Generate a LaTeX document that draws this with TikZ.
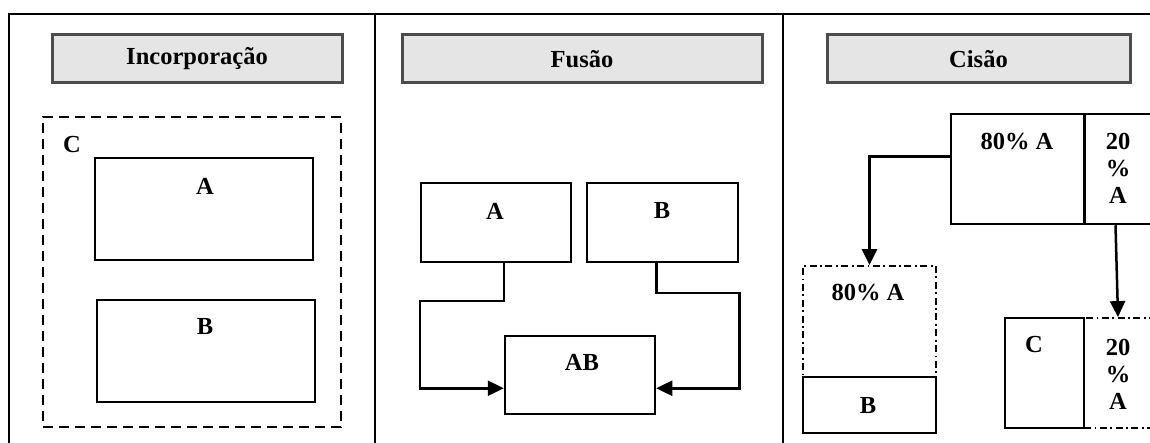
\documentclass[tikz,border=0pt]{standalone}
\usepackage{fontspec}
\setmainfont{Liberation Serif}
\usetikzlibrary{arrows.meta,calc}
\begin{document}
\begin{tikzpicture}[x=1pt,y=-1pt,
  every node/.style={font=\fontsize{24.5}{28}\selectfont\bfseries},
  frame/.style={line width=2.5pt},
  header/.style={draw=black!70,line width=3pt,fill=black!10,inner sep=0pt,minimum height=48pt},
  box/.style={draw,line width=2.5pt,inner sep=0pt},
  dbox/.style={draw,line width=2.5pt,dash pattern=on 10pt off 6pt},
  ddbox/.style={draw,line width=1.8pt,dash pattern=on 7pt off 3.5pt on 1.8pt off 3.5pt},
  lbl/.style={inner sep=0pt},
  stack/.style={inner sep=0pt,align=center,font=\fontsize{24.5}{27}\selectfont\bfseries},
  arr/.style={line width=2.5pt,-{Triangle[length=16pt,width=15pt]}}]
\useasboundingbox (0,0) rectangle (1150,443);
% frame
\draw[frame] (9,443) -- (9,14) -- (1150,14);
\draw[frame] (375,14) -- (375,443);
\draw[frame] (783,14) -- (783,443);
% headers
\node[header,minimum width=290pt] (h1) at (197,59) {Incorporação};
\node[header,minimum width=360pt] (h2) at (582,59) {Fusão};
\node[header,minimum width=303pt] (h3) at (978.5,59) {Cisão};
% Incorporacao
\node[dbox,minimum width=298pt,minimum height=310pt,inner sep=0pt] (ic) at (192,272) {};
\node[lbl] (icl) at (72,145) {C};
\node[box,minimum width=218pt,minimum height=102pt] (ia) at (204,209) {};
\node[lbl] (ial) at (205,186) {A};
\node[box,minimum width=218pt,minimum height=102pt] (ib) at (206,351) {};
\node[lbl] (ibl) at (205,327) {B};
% Fusao
\node[box,minimum width=150pt,minimum height=79pt] (fa) at (496,222.5) {};
\node[lbl] (fal) at (495,211) {A};
\node[box,minimum width=151pt,minimum height=79pt] (fb) at (662.5,222.5) {};
\node[lbl] (fbl) at (662,211) {B};
\node[box,minimum width=150pt,minimum height=78pt] (fab) at (580,375) {};
\node[lbl] (fabl) at (582,362) {AB};
\draw[arr] (fa.south -| fab.west) -- ++(0,38) -- ++(-84,0) -- ++(0,87) -- ++(84,0);
\draw[arr] (fb.south -| fab.east) -- ++(0,30) -- ++(83,0) -- ++(0,95) -- ++(-83,0);
% Cisao
\node[ddbox,minimum width=133pt,minimum height=111pt,inner sep=0pt] (m80) at (869.5,321.5) {};
\node[lbl] (m80l) at (868,293) {80\% A};
\node[ddbox,minimum width=68pt,minimum height=110pt,inner sep=0pt] (b20) at (1118,373) {};
\node[stack] (b20l) at (1118,374) {20\\\%\\A};
\node[box,minimum width=133pt,minimum height=110pt] (t80) at (1017.5,169) {};
\node[lbl] (t80l) at (1017,142) {80\% A};
\node[box,minimum width=67pt,minimum height=110pt] (t20) at (1118.5,169) {};
\node[stack] (t20l) at (1118,168) {20\\\%\\A};
\node[box,minimum width=133pt,minimum height=56pt] (cb) at (869.5,405) {};
\node[lbl] (cbl) at (868,406) {B};
\node[box,minimum width=79pt,minimum height=110pt] (cc) at (1044.5,373) {};
\node[lbl] (ccl) at (1034,345) {C};
\draw[arr] ($(t80.north west)+(0,44)$) -| (m80.north);
\draw[arr] ($(t20.south)+(-3,0)$) -- (b20.north);
\end{tikzpicture}
\end{document}
